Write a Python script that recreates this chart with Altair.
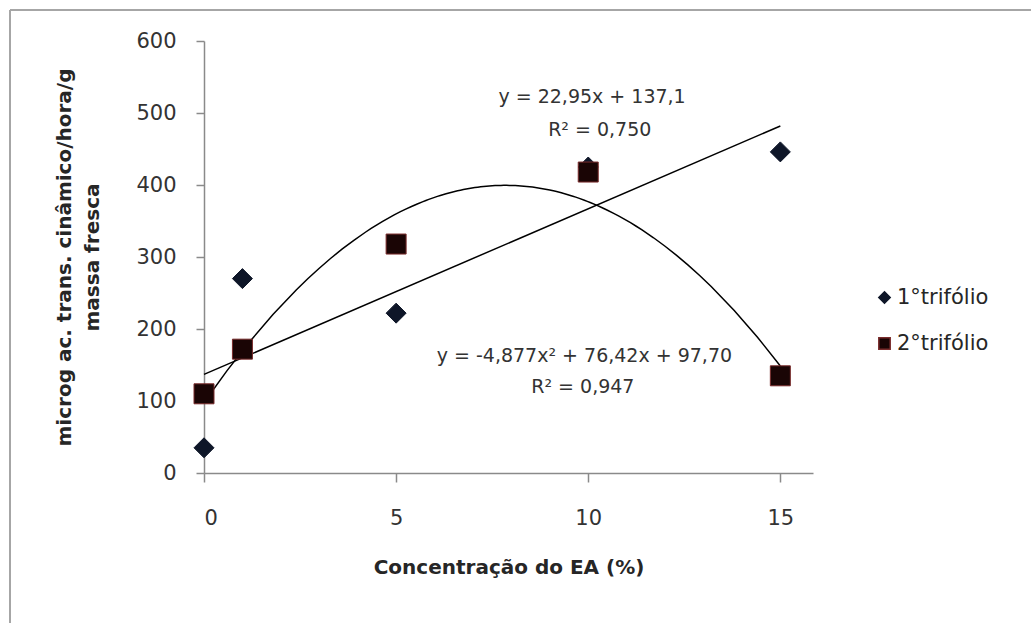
import altair as alt
import pandas as pd

# ---- data ----
conc = [0, 1, 5, 10, 15]
trifolio1 = [35, 270, 222, 425, 446]
trifolio2 = [110, 172, 318, 418, 135]
series = ["1°trifólio", "2°trifólio"]

eq_text = ["y = 22,95x + 137,1", "R² = 0,750", "y = -4,877x² + 76,42x + 97,70", "R² = 0,947"]
eq_x = [10.1, 10.3, 9.9, 9.86]
eq_y = [522, 476, 162, 119]

x_ticks = [0, 5, 10, 15]
y_ticks = [0, 100, 200, 300, 400, 500, 600]

rows = []
for s, vals in zip(series, [trifolio1, trifolio2]):
    for xv, yv in zip(conc, vals):
        rows.append({"x": xv, "y": yv, "serie": s})
df = pd.DataFrame(rows)
eq_df = pd.DataFrame({"x": eq_x, "y": eq_y, "t": eq_text})

FONT = "DejaVu Sans"
GRAY = "#8a8a8a"

x_enc = alt.X(
    "x:Q",
    scale=alt.Scale(domain=[0, 15.85], nice=False, zero=False),
    axis=alt.Axis(
        values=x_ticks, title="Concentração do EA (%)", grid=False,
        domainColor=GRAY, domainWidth=1.5, tickColor=GRAY, tickWidth=1.5, tickSize=9,
        labelFont=FONT, labelFontSize=21, labelColor="#333333", labelPadding=25,
        titleFont=FONT, titleFontSize=20, titleFontWeight="bold", titleColor="#262626",
        titlePadding=29,
    ),
)
y_enc = alt.Y(
    "y:Q",
    scale=alt.Scale(domain=[0, 600], nice=False),
    axis=alt.Axis(
        values=y_ticks, title=["microg ac. trans. cinâmico/hora/g", "massa fresca"], grid=False,
        domainColor=GRAY, domainWidth=1.5, tickColor=GRAY, tickWidth=1.5, tickSize=8,
        labelFont=FONT, labelFontSize=21, labelColor="#333333", labelPadding=20,
        titleFont=FONT, titleFontSize=20, titleFontWeight="bold", titleColor="#262626",
        titlePadding=33, titleLineHeight=28,
    ),
)

leg = alt.Legend(
    title=None, orient="none", legendX=670, legendY=246,
    labelFont=FONT, labelFontSize=21, labelColor="#262626",
    symbolSize=130, rowPadding=24, labelOffset=2, padding=0,
)

base = alt.Chart(df)

points = base.mark_point(filled=True, size=400, opacity=1, strokeWidth=1).encode(
    x=x_enc,
    y=y_enc,
    shape=alt.Shape("serie:N", scale=alt.Scale(domain=series, range=["diamond", "square"]), legend=leg),
    fill=alt.Fill("serie:N", scale=alt.Scale(domain=series, range=["#0e1628", "#1a0505"]), legend=leg),
    stroke=alt.Stroke("serie:N", scale=alt.Scale(domain=series, range=["#0e1628", "#7a2c2c"]), legend=leg),
)

lin = base.transform_filter(alt.datum.serie == series[0]).transform_regression(
    "x", "y", method="linear", extent=[0, 15]
).mark_line(color="black", strokeWidth=1.5).encode(x=x_enc, y=y_enc)

quad = base.transform_filter(alt.datum.serie == series[1]).transform_regression(
    "x", "y", method="poly", order=2, extent=[0, 15]
).mark_line(color="black", strokeWidth=1.5).encode(x=x_enc, y=y_enc)

eqs = alt.Chart(eq_df).mark_text(
    font=FONT, fontSize=19, color="#333333", align="center", baseline="middle"
).encode(x=x_enc, y=y_enc, text="t:N")

frame_data = alt.Data(values=[{}])
left_border = alt.Chart(frame_data).mark_rule(color="#a6a6a6", strokeWidth=2).encode(
    x=alt.value(-194), y=alt.value(-31), y2=alt.value(590)
)
top_border = alt.Chart(frame_data).mark_rule(color="#a6a6a6", strokeWidth=2).encode(
    x=alt.value(-194), x2=alt.value(830), y=alt.value(-31)
)

chart = alt.layer(left_border, top_border, lin, quad, points, eqs).properties(
    width=609, height=432,
    autosize=alt.AutoSizeParams(type="none"),
    padding={"left": 204, "top": 41, "right": 218, "bottom": 150},
    background="white",
).configure_view(stroke=None)

chart.save("out.html", embed_options={"renderer": "svg", "actions": False})
